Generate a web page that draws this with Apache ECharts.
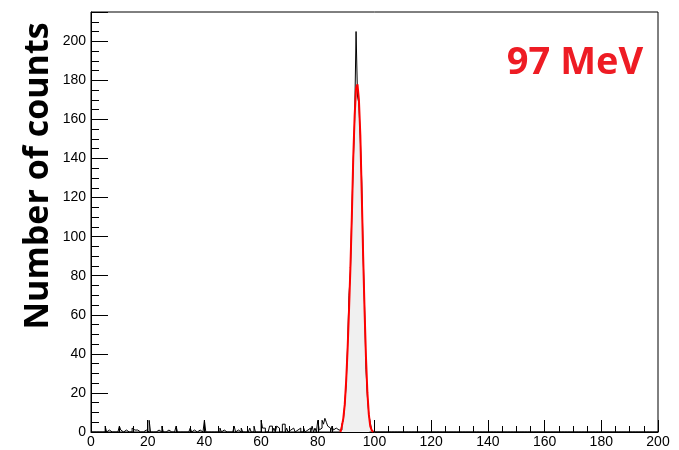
<!DOCTYPE html>
<html><head><meta charset="utf-8">
<script src="https://cdn.jsdelivr.net/npm/echarts@6/dist/echarts.min.js"></script>
<style>html,body{margin:0;padding:0;background:#fff}#c{width:679px;height:450px}</style>
</head><body><div id="c"></div>
<script>
// Histogram binning (0.5 MeV bins from 0 to 200)
const binWidth = 0.5;
const xMin = 0, xMax = 200;
const yMax = 215;
const xTicks = [0,20,40,60,80,100,120,140,160,180,200];
const yTicks = [0,20,40,60,80,100,120,140,160,180,200];

// Background counts (sparse): [bin left edge, counts]
const noiseEdges = [5.0,6.0,10.0,10.5,12.0,14.5,15.0,16.0,17.5,19.0,20.5,22.0,23.5,25.0,27.0,30.0,35.0,36.0,38.0,40.0,42.5,45.5,46.5,48.0,50.5,51.5,53.0,54.5,56.0,57.5,60.0,60.5,61.0,63.0,63.5,64.5,65.5,66.0,67.5,68.0,69.0,70.0,71.0,71.5,72.5,73.5,75.0,76.0,77.0,78.0,79.0,80.0,80.5,81.0,81.5,82.0,82.5,83.0,83.5,84.0,85.0,85.5,86.0,86.5,87.0,87.5];
const noiseCounts = [3,1,3,1,1,2,1,1,1,1,6,1,1,3,1,3,2,1,1,6,1,2,1,1,3,1,2,1,2,3,6,2,2,3,3,2,3,2,4,4,2,1,2,2,1,2,2,1,2,3,2,6,1,2,6,4,7,5,3,2,3,1,2,3,1,2];

// Peak region: data (black) and fitted shape (red, grey fill)
const peakEdges = [88.0,88.5,89.0,89.5,90.0,90.5,91.0,91.5,92.0,92.5,93.0,93.5,94.0,94.5,95.0,95.5,96.0,96.5,97.0,97.5,98.0,98.5,99.0];
const peakData  = [1,4,6,14,24,44,70,82,112,138,160,205,172,168,150,128,90,64,32,18,9,5,1];
const peakFit   = [1,3,7,14,26,42,62,84,110,140,162,176,178,170,152,122,90,62,38,20,9,3,1];

const label = "97 MeV";
const yTitle = "Number of counts";

// build full histogram
const nBins = Math.round((xMax - xMin) / binWidth);
const counts = new Array(nBins).fill(0);
const idx = e => Math.round((e - xMin) / binWidth);
noiseEdges.forEach((e,i)=>{counts[idx(e)] = noiseCounts[i];});
peakEdges.forEach((e,i)=>{counts[idx(e)] = peakData[i];});
const blackPts = [];
for (let i=0;i<nBins;i++) blackPts.push([xMin + i*binWidth, counts[i]]);
blackPts.push([xMax, counts[nBins-1]]);
const redPts = [[peakEdges[0],0]];
peakEdges.forEach((e,i)=>redPts.push([e, peakFit[i]]));
redPts.push([peakEdges[peakEdges.length-1]+binWidth, 0]);

const chart = echarts.init(document.getElementById('c'), null, {renderer:'canvas'});
const labelFont = {fontFamily:'Liberation Sans', fontSize:14, color:'#000'};
chart.setOption({
  animation:false,
  backgroundColor:'#fff',
  grid:{left:91,right:21,top:12,bottom:18,show:true,borderColor:'#000',borderWidth:1,backgroundColor:'transparent'},
  xAxis:{type:'value',min:xMin,max:xMax,interval:20,
    axisLine:{lineStyle:{color:'#000',width:1}},
    axisTick:{inside:true,length:12,lineStyle:{color:'#000'}},
    minorTick:{show:true,splitNumber:4,length:6,lineStyle:{color:'#000'}},
    splitLine:{show:false},
    axisLabel:Object.assign({margin:3,formatter:v=>xTicks.includes(v)?String(v):''},labelFont)},
  yAxis:{type:'value',min:0,max:yMax,interval:20,
    axisLine:{lineStyle:{color:'#000',width:1}},
    axisTick:{inside:true,length:17,lineStyle:{color:'#000'}},
    minorTick:{show:true,splitNumber:4,length:8,lineStyle:{color:'#000'}},
    splitLine:{show:false},
    axisLabel:Object.assign({margin:5,showMaxLabel:false,formatter:v=>yTicks.includes(v)?String(v):''},labelFont)},
  graphic:[
    {type:'text',x:38,y:176,rotation:Math.PI/2,style:{text:yTitle,font:'bold 34px "Open Sans"',fill:'#000',align:'center',verticalAlign:'middle'}},
    {type:'text',x:575,y:63,style:{text:label,font:'bold 38px "Open Sans"',fill:'#ee1c24',align:'center',verticalAlign:'middle'}}
  ],
  series:[
    {type:'line',data:redPts,step:'end',symbol:'none',lineStyle:{width:0},areaStyle:{color:'#f0f0f0',opacity:1},z:1,silent:true},
    {type:'line',data:blackPts,step:'end',symbol:'none',lineStyle:{color:'#000',width:1},z:2,silent:true},
    {type:'line',data:redPts,step:'end',symbol:'none',lineStyle:{color:'#ff0000',width:2},z:3,silent:true}
  ]
});
</script></body></html>
